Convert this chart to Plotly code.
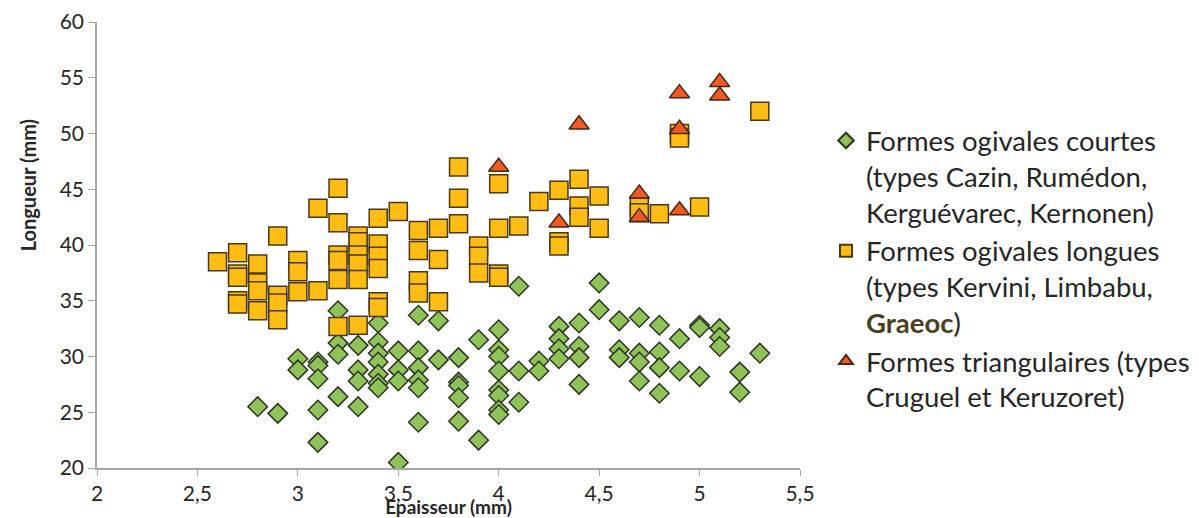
import plotly.graph_objects as go

# Formes ogivales courtes (green diamonds)
courtes_x = [2.8, 2.9,
             3.0, 3.0,
             3.1, 3.1, 3.1, 3.1, 3.1,
             3.2, 3.2, 3.2, 3.2,
             3.3, 3.3, 3.3, 3.3,
             3.4, 3.4, 3.4, 3.4, 3.4, 3.4, 3.4,
             3.5, 3.5, 3.5, 3.5,
             3.6, 3.6, 3.6, 3.6, 3.6, 3.6,
             3.7, 3.7,
             3.8, 3.8, 3.8, 3.8, 3.8,
             3.9, 3.9,
             4.0, 4.0, 4.0, 4.0, 4.0, 4.0, 4.0, 4.0,
             4.1, 4.1, 4.1,
             4.2, 4.2,
             4.3, 4.3, 4.3, 4.3,
             4.4, 4.4, 4.4, 4.4,
             4.5, 4.5,
             4.6, 4.6, 4.6,
             4.7, 4.7, 4.7, 4.7,
             4.8, 4.8, 4.8, 4.8,
             4.9, 4.9,
             5.0, 5.0, 5.0,
             5.1, 5.1, 5.1,
             5.2, 5.2,
             5.3]
courtes_y = [25.5, 24.9,
             29.8, 28.8,
             29.5, 29.2, 28.0, 25.2, 22.3,
             34.1, 31.2, 30.2, 26.4,
             31.0, 28.8, 27.8, 25.5,
             33.0, 31.3, 30.3, 29.5, 28.4, 27.6, 27.2,
             30.5, 28.8, 27.8, 20.5,
             33.7, 30.5, 29.0, 27.9, 27.2, 24.1,
             33.2, 29.7,
             29.9, 27.7, 27.4, 26.3, 24.2,
             31.5, 22.5,
             32.4, 30.6, 30.0, 28.7, 27.0, 26.5, 25.2, 24.8,
             36.3, 28.7, 25.9,
             29.6, 28.7,
             32.7, 31.6, 30.7, 29.8,
             33.0, 30.9, 29.9, 27.5,
             36.6, 34.2,
             33.2, 30.6, 29.9,
             33.5, 30.3, 29.5, 27.8,
             32.8, 30.4, 29.0, 26.7,
             31.6, 28.7,
             32.8, 32.6, 28.2,
             32.5, 31.7, 30.9,
             28.6, 26.8,
             30.3]

# Formes ogivales longues (yellow squares)
longues_x = [2.6,
             2.7, 2.7, 2.7, 2.7, 2.7,
             2.8, 2.8, 2.8, 2.8,
             2.9, 2.9, 2.9, 2.9,
             3.0, 3.0, 3.0,
             3.1, 3.1,
             3.2, 3.2, 3.2, 3.2, 3.2, 3.2,
             3.3, 3.3, 3.3, 3.3, 3.3, 3.3,
             3.4, 3.4, 3.4, 3.4, 3.4, 3.4,
             3.5,
             3.6, 3.6, 3.6, 3.6,
             3.7, 3.7, 3.7,
             3.8, 3.8, 3.8,
             3.9, 3.9, 3.9,
             4.0, 4.0, 4.0, 4.0,
             4.1, 4.2,
             4.3, 4.3, 4.3,
             4.4, 4.4, 4.4,
             4.5, 4.5,
             4.7, 4.7,
             4.8,
             4.9, 4.9,
             5.0, 5.3]
longues_y = [38.5,
             39.3, 37.4, 37.1, 35.0, 34.7,
             38.3, 36.6, 35.9, 34.1,
             40.8, 35.5, 34.8, 33.3,
             38.6, 37.6, 35.8,
             43.3, 35.9,
             45.1, 42.0, 39.1, 38.6, 36.9, 32.7,
             40.8, 40.3, 39.1, 38.3, 36.9, 32.8,
             42.4, 40.1, 39.0, 37.9, 34.9, 34.4,
             43.0,
             41.3, 39.5, 36.8, 35.7,
             41.5, 38.7, 34.9,
             47.0, 44.2, 41.9,
             39.9, 39.0, 37.5,
             45.5, 41.5, 37.4, 37.1,
             41.7, 43.9,
             44.9, 40.3, 39.9,
             45.9, 43.5, 42.5,
             44.4, 41.5,
             43.4, 42.9,
             42.8,
             50.0, 49.6,
             43.4, 52.0]

# Formes triangulaires (red triangles)
tri_x = [4.0, 4.3, 4.4, 4.7, 4.7, 4.9, 4.9, 4.9, 5.1, 5.1]
tri_y = [47.0, 42.0, 50.8, 44.6, 42.5, 53.6, 50.4, 43.1, 54.6, 53.4]

x_ticks = [2, 2.5, 3, 3.5, 4, 4.5, 5, 5.5]
y_ticks = [20, 25, 30, 35, 40, 45, 50, 55, 60]

name_courtes = "Formes ogivales courtes<br>(types Cazin, Rumédon,<br>Kerguévarec, Kernonen)"
name_longues = ("Formes ogivales longues<br>(types Kervini, Limbabu,<br>"
                "<b><span style='color:#4a3f1f'>Graeoc</span></b>)")
name_tri = "Formes triangulaires (types<br>Cruguel et Keruzoret)"

fig = go.Figure()
fig.add_trace(go.Scatter(
    x=courtes_x, y=courtes_y, mode="markers", name=name_courtes,
    marker=dict(symbol="diamond", size=15, color="#8FC35A",
                line=dict(color="#2B3520", width=1.5))))
fig.add_trace(go.Scatter(
    x=longues_x, y=longues_y, mode="markers", name=name_longues,
    marker=dict(symbol="square", size=18, color="#FDBD14",
                line=dict(color="#4A3814", width=1.5))))
fig.add_trace(go.Scatter(
    x=tri_x, y=tri_y, mode="markers", name=name_tri,
    marker=dict(symbol="triangle-up", size=17.5, color="#EE5A24",
                line=dict(color="#4A2616", width=1.5))))

fig.update_layout(
    width=1199, height=510,
    margin=dict(l=89, r=407, t=14, b=50),
    plot_bgcolor="white", paper_bgcolor="white",
    separators=", ",
    font=dict(family="Lato", size=21, color="#262626"),
    legend=dict(x=1.037, y=0.789, xanchor="left", yanchor="top",
                font=dict(size=27.5), valign="top", tracegroupgap=12,
                itemsizing="constant", bgcolor="rgba(0,0,0,0)"),
    xaxis=dict(range=[2, 5.5], tickvals=x_ticks, showgrid=False, zeroline=False,
               showline=True, linecolor="#A6A6A6", linewidth=1.5,
               ticks="outside", tickcolor="#A6A6A6", ticklen=6,
               tickfont=dict(size=21),
               title=dict(text="<b>Epaisseur (mm)</b>", font=dict(size=19), standoff=10),
               automargin=False),
    yaxis=dict(range=[20, 60], tickvals=y_ticks, showgrid=False, zeroline=False,
               showline=True, linecolor="#A6A6A6", linewidth=1.5,
               ticks="outside", tickcolor="#A6A6A6", ticklen=7,
               tickfont=dict(size=21),
               automargin=False),
    annotations=[dict(text="<b>Longueur (mm)</b>", xref="paper", yref="paper",
                      x=-0.098, y=0.634, xanchor="center", yanchor="middle",
                      textangle=-90, showarrow=False,
                      font=dict(size=20, family="Lato", color="#262626"))],
)

fig.write_html("out.html")
